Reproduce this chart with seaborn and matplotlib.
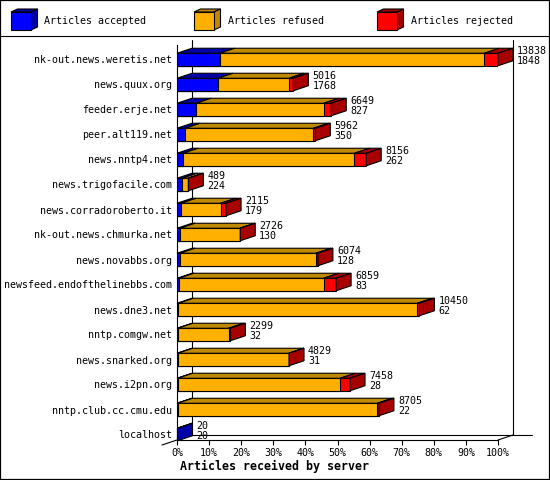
import numpy as np
import pandas as pd
import matplotlib
matplotlib.use("Agg")
import matplotlib.pyplot as plt
from matplotlib.patches import Polygon, Rectangle
from matplotlib.lines import Line2D
import seaborn as sns

# ---------------- data ----------------
hosts = [
    "nk-out.news.weretis.net", "news.quux.org", "feeder.erje.net",
    "peer.alt119.net", "news.nntp4.net", "news.trigofacile.com",
    "news.corradoroberto.it", "nk-out.news.chmurka.net", "news.novabbs.org",
    "newsfeed.endofthelinebbs.com", "news.dne3.net", "nntp.comgw.net",
    "news.snarked.org", "news.i2pn.org", "nntp.club.cc.cmu.edu", "localhost",
]
total_articles = [13838, 5016, 6649, 5962, 8156, 489, 2115, 2726, 6074, 6859,
                  10450, 2299, 4829, 7458, 8705, 20]
accepted = [1848, 1768, 827, 350, 262, 224, 179, 130, 128, 83, 62, 32, 31, 28, 22, 20]
rejected = [590, 190, 320, 80, 505, 3, 230, 5, 90, 535, 90, 70, 5, 420, 70, 0]
tick_values = [0, 10, 20, 30, 40, 50, 60, 70, 80, 90, 100]
legend_labels = ["Articles accepted", "Articles refused", "Articles rejected"]
xlabel_text = "Articles received by server"

# ---------------- style ----------------
W, H, DPI = 550, 480, 100
BLUE, BLUE_D = "#0000FF", "#0000A8"
ORANGE, ORANGE_D = "#FFB000", "#C08A00"
RED, RED_D = "#FF0000", "#A80000"
LW = 0.8
FS = 7.2

sns.set_style("white")
plt.rcParams["font.family"] = ["DejaVu Sans Mono"]

fig = plt.figure(figsize=(W / DPI, H / DPI), dpi=DPI)
fig.patch.set_facecolor("white")

# plot axes: x 177..498 px, y 40..440 px
ax_l, ax_r, ax_t, ax_b = 177, 498, 40, 440
ax = fig.add_axes([ax_l / W, 1 - ax_b / H, (ax_r - ax_l) / W, (ax_b - ax_t) / H])
ax.set_facecolor("white")

row0_px, pitch_px = 59.5, 25.0
y_bottom = (ax_b - row0_px) / pitch_px
y_top = (ax_t - row0_px) / pitch_px
px_x = 100.0 / (ax_r - ax_l)      # data units per pixel in x
px_y = 1.0 / pitch_px             # data units per pixel in y
DX = 15 * px_x
DY = 5 * px_y
BH = 0.5

df = pd.DataFrame({"host": hosts, "total": total_articles,
                   "accepted": accepted, "rejected": rejected})
df["refused"] = df["total"] - df["accepted"] - df["rejected"]
scale = 100.0 / df["total"].max()
df["acc_end"] = df["accepted"] * scale
df["ref_end"] = (df["accepted"] + df["refused"]) * scale
df["tot_end"] = df["total"] * scale

for col, color in [("tot_end", RED), ("ref_end", ORANGE), ("acc_end", BLUE)]:
    sns.barplot(data=df, x=col, y="host", orient="h", color=color, width=BH,
                saturation=1, edgecolor="black", linewidth=LW, errorbar=None,
                ax=ax, zorder=2)

ax.set_xlim(0, 100)
ax.set_ylim(y_bottom, y_top)

# 3D top and side faces
for i, row in df.iterrows():
    segs = [(0, row["acc_end"], BLUE_D), (row["acc_end"], row["ref_end"], ORANGE_D),
            (row["ref_end"], row["tot_end"], RED_D)]
    yt = i - BH / 2
    yb = i + BH / 2
    last_color = BLUE_D
    for x0, x1, c in segs:
        if x1 - x0 <= 0:
            continue
        last_color = c
        ax.add_patch(Polygon([(x0, yt), (x1, yt), (x1 + DX, yt - DY), (x0 + DX, yt - DY)],
                             closed=True, facecolor=c, edgecolor="black", lw=LW,
                             zorder=2.2, clip_on=False))
    xe = row["tot_end"]
    ax.add_patch(Polygon([(xe, yt), (xe + DX, yt - DY), (xe + DX, yb - DY), (xe, yb)],
                         closed=True, facecolor=last_color, edgecolor="black", lw=LW,
                         zorder=2.2, clip_on=False))
    tx = xe + DX + 4 * px_x
    ax.text(tx, i - 0.35, f"{row['total']}", ha="left", va="center", fontsize=FS,
            color="black", zorder=3, clip_on=False)
    ax.text(tx, i + 0.06, f"{row['accepted']}", ha="left", va="center", fontsize=FS,
            color="black", zorder=3, clip_on=False)

# walls and floor
wall_kw = dict(color="black", lw=LW, zorder=0.5, clip_on=False)
ax.add_line(Line2D([DX, DX], [y_top, y_bottom - DY], **wall_kw))
ax.add_line(Line2D([100 + DX, 100 + DX], [y_top, y_bottom - DY], **wall_kw))
ax.add_line(Line2D([DX, (532 - ax_l) * px_x], [y_bottom - DY, y_bottom - DY], **wall_kw))
ax.add_line(Line2D([100, 100 + DX], [y_bottom, y_bottom - DY], **wall_kw))
ax.add_line(Line2D([0, -DX], [y_bottom, y_bottom + DY], **wall_kw))

for s in ["top", "right"]:
    ax.spines[s].set_visible(False)
ax.spines["left"].set_bounds(y_bottom, (45 - row0_px) / pitch_px)
for s in ["left", "bottom"]:
    ax.spines[s].set_color("black")
    ax.spines[s].set_linewidth(LW)

ax.set_xticks(tick_values)
ax.set_xticklabels([f"{v}%" for v in tick_values], fontsize=FS)
ax.set_yticks(range(len(hosts)))
ax.set_yticklabels(hosts, fontsize=FS)
ax.tick_params(axis="x", length=3.6, width=LW, color="black", direction="out",
               pad=2.0, labelcolor="black", bottom=True)
ax.tick_params(axis="y", length=0, pad=3.6, labelcolor="black")
ax.set_xlabel("")
ax.set_ylabel("")
ax.grid(False)

fig.text(180 / W, 1 - 466 / H, xlabel_text, ha="left", va="center",
         fontsize=8.4, fontweight="bold", color="black")

# legend area
lg = fig.add_axes([0, 1 - 35 / H, 1, 35 / H])
lg.set_xlim(0, W)
lg.set_ylim(35, 0)
lg.axis("off")
cube_x = [11, 194, 377]
text_x = [44, 228, 411]
for cx, tx, lab, c, cd in zip(cube_x, text_x, legend_labels,
                              [BLUE, ORANGE, RED], [BLUE_D, ORANGE_D, RED_D]):
    fw, ft, fb, dx, dy = 20, 12, 30, 6.5, 3
    lg.add_patch(Polygon([(cx, ft), (cx + fw, ft), (cx + fw + dx, ft - dy), (cx + dx, ft - dy)],
                         closed=True, facecolor=cd, edgecolor="black", lw=LW))
    lg.add_patch(Polygon([(cx + fw, ft), (cx + fw + dx, ft - dy), (cx + fw + dx, fb - dy), (cx + fw, fb)],
                         closed=True, facecolor=cd, edgecolor="black", lw=LW))
    lg.add_patch(Rectangle((cx, ft), fw, fb - ft, facecolor=c, edgecolor="black", lw=LW))
    lg.text(tx, 20.5, lab, ha="left", va="center", fontsize=FS, color="black")

fig.add_artist(Line2D([0, 1], [1 - 35.5 / H, 1 - 35.5 / H], transform=fig.transFigure,
                      color="black", lw=LW))
fig.add_artist(Rectangle((0, 0), 1, 1, transform=fig.transFigure, fill=False,
                         edgecolor="black", lw=1.6))

fig.savefig("out.png", dpi=DPI)
